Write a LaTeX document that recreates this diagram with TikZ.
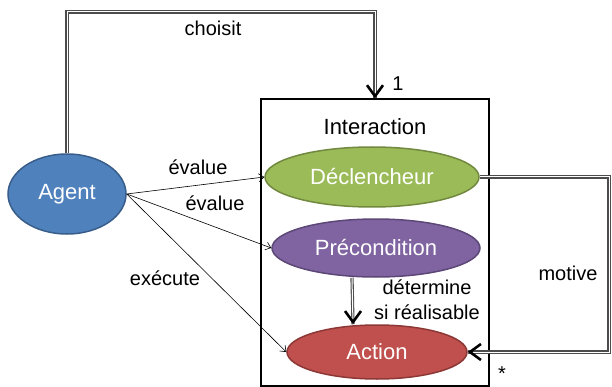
\documentclass[tikz,border=0pt]{standalone}
\usepackage{fontspec}
\setmainfont{Liberation Sans}
\usetikzlibrary{shapes.geometric,arrows.meta}
\definecolor{agentfill}{RGB}{79,129,189}
\definecolor{agentdraw}{RGB}{56,93,138}
\definecolor{triggerfill}{RGB}{155,187,89}
\definecolor{triggerdraw}{RGB}{113,137,63}
\definecolor{condfill}{RGB}{128,100,162}
\definecolor{conddraw}{RGB}{92,71,118}
\definecolor{actionfill}{RGB}{192,80,77}
\definecolor{actiondraw}{RGB}{140,56,54}

\begin{document}
\begin{tikzpicture}[x=1pt,y=-1pt]

\tikzset{
  concept/.style={
    ellipse,
    inner sep=0pt,
    line width=1.5pt,
    text=white,
    font=\fontsize{22}{24}\selectfont
  },
  label text/.style={font=\fontsize{20}{25}\selectfont, inner sep=0pt},
  thin link/.style={draw=black, line width=0.6pt, -{Straight Barb[length=5pt,width=8pt]}},
  double link/.style={draw=gray!60!black, double=white, line width=1.1pt, double distance=1pt},
  bold tip/.style={line width=1pt, -{Straight Barb[length=11pt,width=16pt,line width=2.6pt]}}
}

\useasboundingbox (0,0) rectangle (612,387);

% Interaction frame and its three parts.
\node[draw, line width=1.2pt, minimum width=228pt, minimum height=287pt, inner sep=0pt]
  (inter) at (375,242.5) {};
\node[label text, font=\fontsize{22}{24}\selectfont] (intertitle) at (375,127) {Interaction};
\node[concept, fill=triggerfill, draw=triggerdraw, minimum width=214pt, minimum height=60pt]
  (trigger) at (372,177) {Déclencheur};
\node[concept, fill=condfill, draw=conddraw, minimum width=208pt, minimum height=58pt]
  (cond) at (376,248) {Précondition};
\node[concept, fill=actionfill, draw=actiondraw, minimum width=180pt, minimum height=54pt]
  (action) at (377,352) {Action};

% Agent.
\node[concept, fill=agentfill, draw=agentdraw, minimum width=118pt, minimum height=80pt]
  (agent) at (67,194) {Agent};

% Turning points of the outer links.
\coordinate (topline) at (0,12);
\coordinate (rightline) at (609,0);

% Agent chooses the interaction.
\draw[double link] (agent.north) -- (agent.north |- topline) -| (inter.north);
\draw[bold tip] (inter.north) ++(0,-2) -- (inter.north);

% Trigger motivates the action.
\draw[double link] (trigger.east) -- (trigger.east -| rightline) |- (action.east);
\draw[bold tip] (action.east) ++(2,0) -- (action.east);

% Precondition decides feasibility.
\draw[double link] ([xshift=-24pt]cond.south) -- ([xshift=-24pt]action.north);
\draw[bold tip] ([xshift=-24pt]action.north) ++(0,-2) -- ([xshift=-24pt]action.north);

% Agent evaluates and executes.
\draw[thin link] (agent.east) -- (trigger.west);
\draw[thin link] (agent.east) -- (cond.west);
\draw[thin link] (agent.east) -- (action.west);

% Labels.
\node[label text] (choisitlabel) at (213,28) {choisit};
\node[label text] (onelabel) at (398,84) {1};
\node[label text] (evaluelabela) at (198,167) {évalue};
\node[label text] (evaluelabelb) at (215,203) {évalue};
\node[label text] (executelabel) at (165,278) {exécute};
\node[label text] (motivelabel) at (568,273) {motive};
\node[label text] (starlabel) at (502,374) {*};
\node[label text, align=center] (determinelabel) at (427,300) {détermine\\si réalisable};

\end{tikzpicture}
\end{document}
